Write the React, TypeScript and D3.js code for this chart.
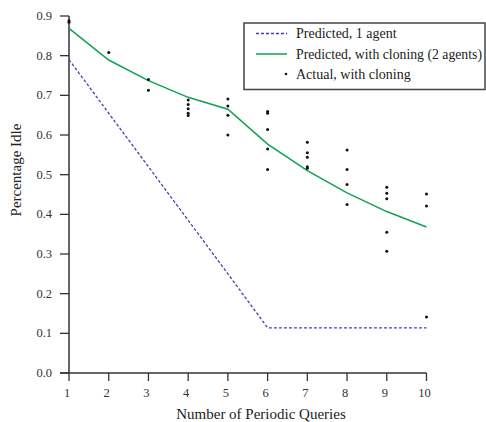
import React from "react";
import * as d3 from "d3";

const xTicks = [1, 2, 3, 4, 5, 6, 7, 8, 9, 10];
const yTicks = [0.0, 0.1, 0.2, 0.3, 0.4, 0.5, 0.6, 0.7, 0.8, 0.9];
const queries = [1, 2, 3, 4, 5, 6, 7, 8, 9, 10];
const predictedOne = [0.79, 0.655, 0.52, 0.385, 0.25, 0.114, 0.114, 0.114, 0.114, 0.114];
const predictedCloning = [0.869, 0.789, 0.737, 0.695, 0.665, 0.577, 0.51, 0.454, 0.407, 0.368];
const actualX = [
  1, 1, 2, 3, 3,
  4, 4, 4, 4, 4,
  5, 5, 5, 5,
  6, 6, 6, 6, 6,
  7, 7, 7, 7, 7,
  8, 8, 8, 8,
  9, 9, 9, 9, 9,
  10, 10, 10,
];
const actualY = [
  0.884, 0.888, 0.808, 0.74, 0.713,
  0.688, 0.677, 0.666, 0.655, 0.649,
  0.691, 0.673, 0.65, 0.6,
  0.659, 0.655, 0.614, 0.565, 0.513,
  0.582, 0.555, 0.544, 0.52, 0.516,
  0.562, 0.513, 0.475, 0.425,
  0.468, 0.453, 0.439, 0.355, 0.307,
  0.451, 0.421, 0.141,
];

const W = 486;
const H = 422;
const PURPLE = "#5a35b0";
const GREEN = "#12a052";
const AXIS = "#333";
const FONT = "Liberation Serif, Times New Roman, serif";

export default function App() {
  const x = d3.scaleLinear().domain([1, 10]).range([69, 426.5]);
  const y = d3.scaleLinear().domain([0, 0.9]).range([373, 16]);
  const line = d3
    .line<[number, number]>()
    .x((d) => x(d[0]))
    .y((d) => y(d[1]));
  const onePts: [number, number][] = queries.map((q, i) => [q, predictedOne[i]]);
  const clonePts: [number, number][] = queries.map((q, i) => [q, predictedCloning[i]]);
  const ts = { fontFamily: FONT };

  return (
    <svg
      width={W}
      height={H}
      style={{ position: "absolute", left: 0, top: 0, background: "#fff" }}
    >
      {/* axes */}
      <line x1={x(1)} x2={x(1)} y1={y(0.9)} y2={y(0)} stroke={AXIS} strokeWidth={1.5} />
      <line x1={60} x2={x(10)} y1={y(0)} y2={y(0)} stroke={AXIS} strokeWidth={1.5} />
      {yTicks.map((t) => (
        <g key={"y" + t}>
          <line x1={60} x2={x(1)} y1={y(t)} y2={y(t)} stroke={AXIS} strokeWidth={1.3} />
          <text x={52} y={y(t)} dy="0.33em" textAnchor="end" fontSize={12.5} fill="#333" style={ts}>
            {t.toFixed(1)}
          </text>
        </g>
      ))}
      {xTicks.map((t) => (
        <g key={"x" + t}>
          <line x1={x(t)} x2={x(t)} y1={y(0)} y2={y(0) + 8} stroke={AXIS} strokeWidth={1.3} />
          <text x={x(t) - 2} y={397} textAnchor="middle" fontSize={12.5} fill="#333" style={ts}>
            {t}
          </text>
        </g>
      ))}
      <text x={261} y={419} textAnchor="middle" fontSize={15} fill="#222" style={ts}>
        Number of Periodic Queries
      </text>
      <text
        transform={`translate(21,170) rotate(-90)`}
        textAnchor="middle"
        fontSize={15}
        fill="#222"
        style={ts}
      >
        Percentage Idle
      </text>

      {/* lines */}
      <path d={line(onePts) || ""} fill="none" stroke={PURPLE} strokeWidth={1.3} strokeDasharray="3,2" />
      <path d={line(clonePts) || ""} fill="none" stroke={GREEN} strokeWidth={1.5} />

      {/* points */}
      {actualX.map((q, i) => (
        <circle key={"p" + i} cx={x(q)} cy={y(actualY[i])} r={1.5} fill="#111" />
      ))}

      {/* legend */}
      <rect x={244} y={23} width={241} height={66.5} fill="#fff" stroke="#444" strokeWidth={1.5} />
      <line x1={256} x2={287} y1={33.5} y2={33.5} stroke={PURPLE} strokeWidth={1.3} strokeDasharray="3,2" />
      <text x={296} y={33.5} dy="0.33em" fontSize={14} fill="#222" style={ts}>
        Predicted, 1 agent
      </text>
      <line x1={256} x2={287} y1={54} y2={54} stroke={GREEN} strokeWidth={1.5} />
      <text x={296} y={54} dy="0.33em" fontSize={14} fill="#222" style={ts} textLength={186} lengthAdjust="spacingAndGlyphs">
        Predicted, with cloning (2 agents)
      </text>
      <circle cx={286} cy={74} r={1.3} fill="#111" />
      <text x={296} y={74} dy="0.33em" fontSize={14} fill="#222" style={ts}>
        Actual, with cloning
      </text>
    </svg>
  );
}
